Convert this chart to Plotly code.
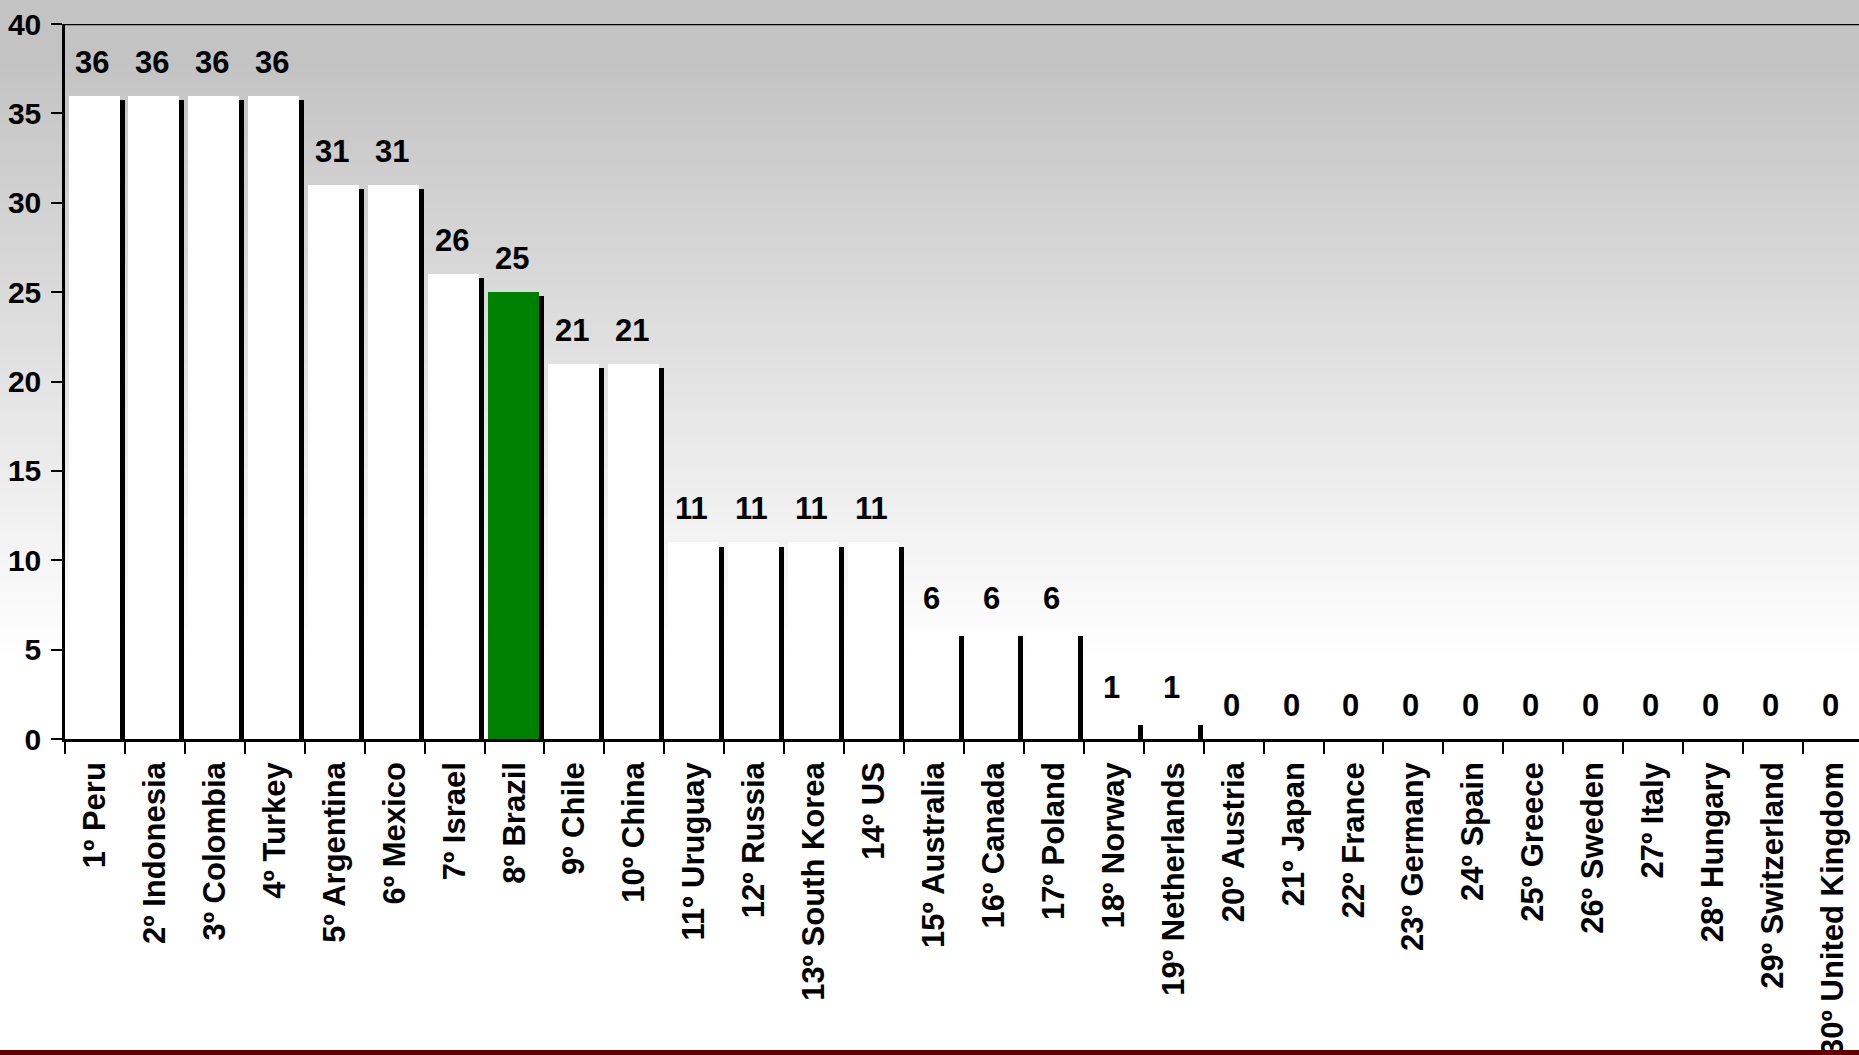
import plotly.graph_objects as go

categories = ["1º Peru", "2º Indonesia", "3º Colombia", "4º Turkey", "5º Argentina",
              "6º Mexico", "7º Israel", "8º Brazil", "9º Chile", "10º China",
              "11º Uruguay", "12º Russia", "13º South Korea", "14º US", "15º Australia",
              "16º Canada", "17º Poland", "18º Norway", "19º Netherlands", "20º Austria",
              "21º Japan", "22º France", "23º Germany", "24º Spain", "25º Greece",
              "26º Sweden", "27º Italy", "28º Hungary", "29º Switzerland", "30º United Kingdom"]
values = [36, 36, 36, 36, 31, 31, 26, 25, 21, 21,
          11, 11, 11, 11, 6, 6, 6, 1, 1, 0,
          0, 0, 0, 0, 0, 0, 0, 0, 0, 0]
highlight = "8º Brazil"
y_ticks = [0, 5, 10, 15, 20, 25, 30, 35, 40]

FONT = "Liberation Sans, Arial, sans-serif"
W, H = 1859, 1055
ML, MR, MT, MB = 65, 0, 24, 316
plot_w = W - ML - MR
plot_h = H - MT - MB
cat_px = 59.93
x_max = -0.5 + plot_w / cat_px
unit_px = plot_h / 40.0

shadow_drop = 4.2 / unit_px
shadow_vals = [max(0, v - shadow_drop) for v in values]
bar_colors = ["#008000" if c == highlight else "#FFFFFF" for c in categories]

bold = dict(family=FONT, size=31, color="#000000", weight="bold")
bold_y = dict(family=FONT, size=30, color="#000000", weight="bold")

fig = go.Figure()
fig.add_trace(go.Bar(x=categories, y=shadow_vals, width=0.851, offset=-0.358,
                     marker=dict(color="#000000", line=dict(width=0)),
                     hoverinfo="skip", showlegend=False))
fig.add_trace(go.Bar(x=categories, y=values, width=0.851, offset=-0.4416,
                     marker=dict(color=bar_colors, line=dict(width=0)),
                     showlegend=False))

for c, v in zip(categories, values):
    fig.add_annotation(x=c, y=v, text=str(v), showarrow=False, xref="x", yref="y",
                       yanchor="bottom", xanchor="center", yshift=14, xshift=-2.5,
                       font=bold)

# gradient background
shapes = []
n_bands = 120
y_top_px, g_start, g_end = 0, 60, 660
for i in range(n_bands):
    p0 = y_top_px + (g_end - y_top_px) * i / n_bands
    p1 = y_top_px + (g_end - y_top_px) * (i + 1) / n_bands
    mid = (p0 + p1) / 2
    if mid <= g_start:
        g = 195
    else:
        g = 195 + 60 * (mid - g_start) / (g_end - g_start)
    g = int(round(min(255, g)))
    shapes.append(dict(type="rect", xref="paper", yref="paper",
                       x0=-ML / plot_w - 0.01, x1=1.01,
                       y0=(H - MB - p1) / plot_h, y1=(H - MB - p0 + 0.5) / plot_h,
                       fillcolor=f"rgb({g},{g},{g})", line=dict(width=0), layer="below"))
# top border line at y=40
shapes.append(dict(type="line", xref="paper", yref="y", x0=0, x1=1, y0=40, y1=40,
                   line=dict(color="#000000", width=2.5), layer="above"))
# maroon bottom bar
shapes.append(dict(type="rect", xref="paper", yref="paper",
                   x0=-ML / plot_w - 0.01, x1=1.01,
                   y0=-(MB + 2) / plot_h, y1=-(MB - 5) / plot_h,
                   fillcolor="#600000", line=dict(width=0), layer="above"))

fig.update_layout(
    width=W, height=H,
    margin=dict(l=ML, r=MR, t=MT, b=MB, pad=0),
    paper_bgcolor="#FFFFFF", plot_bgcolor="rgba(0,0,0,0)",
    barmode="overlay", bargap=0,
    shapes=shapes,
    font=bold,
    xaxis=dict(type="category", range=[-0.5, x_max], showgrid=False, zeroline=False,
               showline=True, linecolor="#000000", linewidth=2.5,
               ticks="outside", ticklen=12, tickwidth=2, tickcolor="#000000",
               tickson="boundaries", tickangle=-90, ticklabelstandoff=8,
               tickfont=bold),
    yaxis=dict(range=[0, 40], tickvals=y_ticks, showgrid=False, zeroline=False,
               showline=True, linecolor="#000000", linewidth=2.5,
               ticks="outside", ticklen=11, tickwidth=2, tickcolor="#000000",
               ticklabelstandoff=4, tickfont=bold_y),
)

fig.write_html("out.html", config={"displayModeBar": False},
               post_script="document.body.style.margin='0';document.body.style.overflow='hidden';")
